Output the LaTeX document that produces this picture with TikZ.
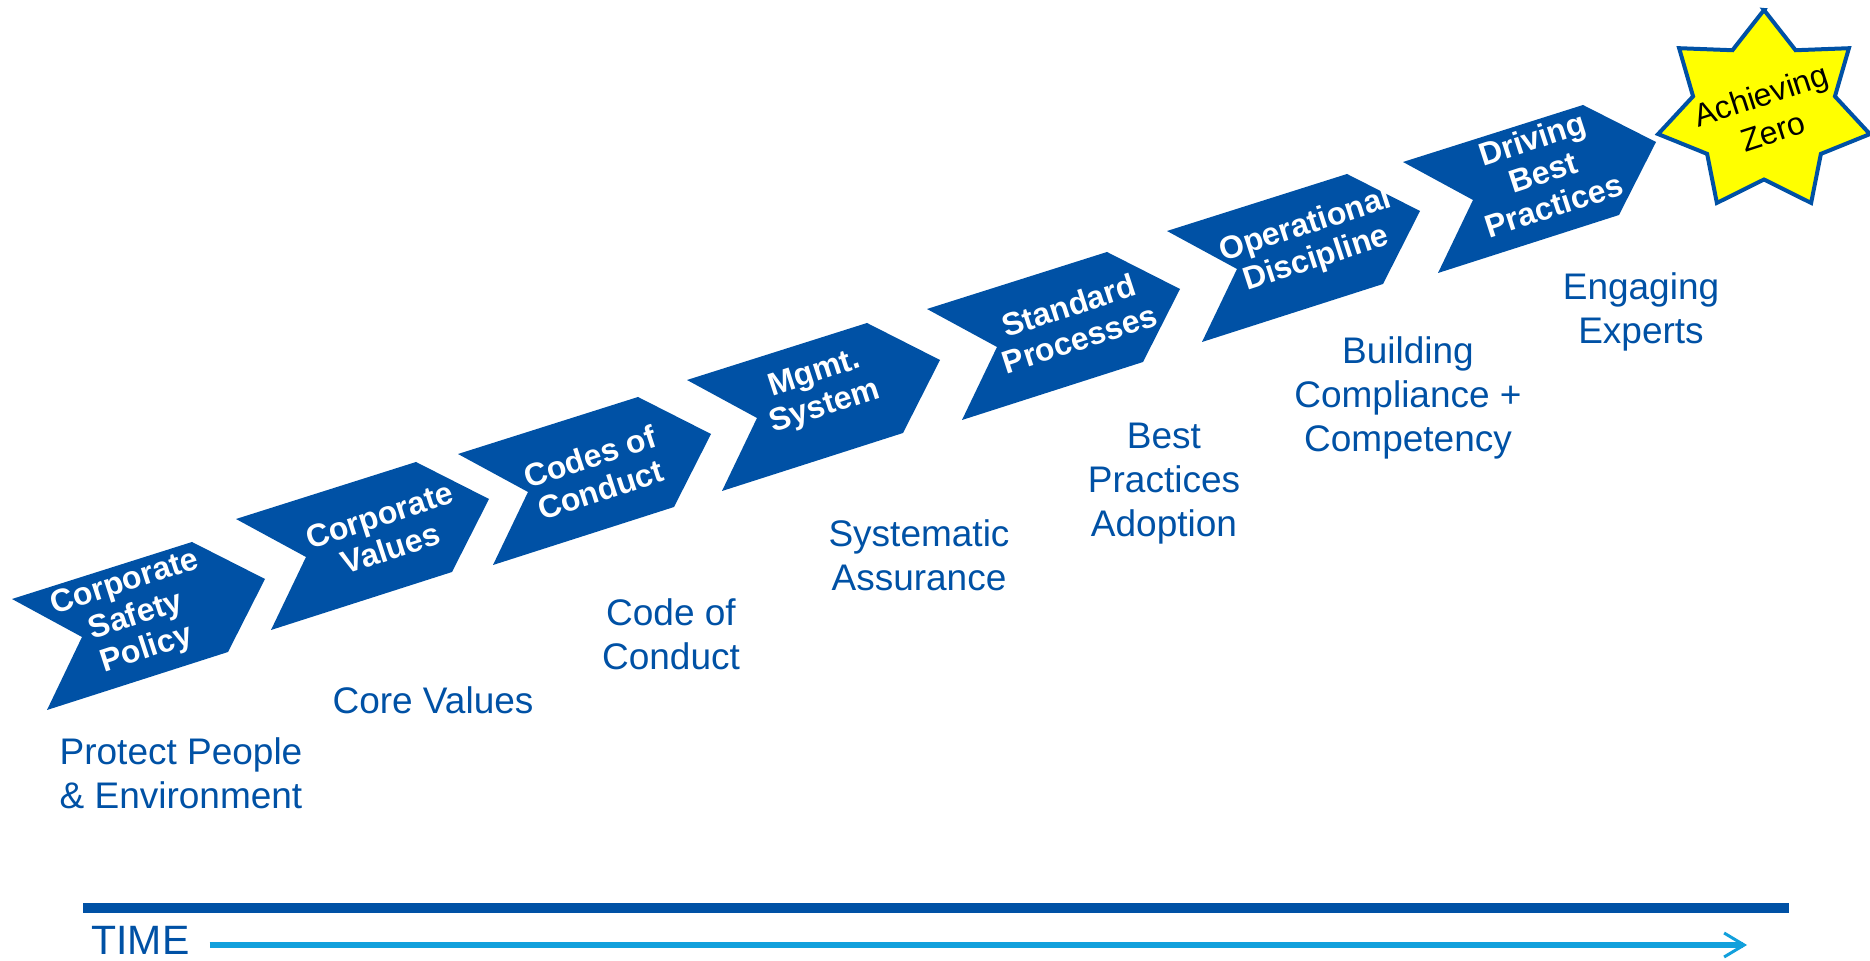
\documentclass[tikz,border=0pt]{standalone}
\usepackage{fontspec}
\setmainfont{Liberation Sans}
\usetikzlibrary{arrows.meta}
\definecolor{stepblue}{RGB}{0,81,165}
\definecolor{timeblue}{RGB}{18,160,220}
\definecolor{staryellow}{RGB}{255,255,0}
\tikzset{
  steplabel/.style={text=white, font=\bfseries\fontsize{16}{17.5}\selectfont, align=center, rotate=18, inner sep=0pt},
  outcome/.style={text=stepblue, font=\fontsize{18.5}{22}\selectfont, align=center, inner sep=0pt},
  timearrow/.style={timeblue, line width=3pt, -{Straight Barb[length=10pt,width=12pt,line width=1.5pt]}},
}
\begin{document}
\begin{tikzpicture}[x=0.5pt, y=-0.5pt]
\useasboundingbox (0,0) rectangle (1870,961);
% chevrons, placed by their left notch tip
\foreach \x/\y in {12/599, 236/519, 458/454, 687/380, 927/309, 1167/231, 1403/162}
  \fill[stepblue] (\x,\y) -- ++(180,-57) -- ++(73,37) -- ++(-37,73) -- ++(-181,58) -- ++(35,-73) -- cycle;
\node[steplabel] (policy) at (136,617) {Corporate\\Safety\\Policy};
\node[steplabel] (values) at (385,532) {Corporate\\Values};
\node[steplabel] (codes) at (595,473) {Codes of\\Conduct};
\node[steplabel] (mgmt) at (820,391) {Mgmt.\\System};
\node[steplabel] (processes) at (1074,322) {Standard\\Processes};
\node[steplabel] (discipline) at (1311,243) {Operational\\Discipline};
\node[steplabel] (driving) at (1543,172) {Driving\\Best\\Practices};
% the star
\filldraw[fill=staryellow, draw=stepblue, line width=2pt, shift={(1764,111.5)}, xscale=1.07]
  (270:101.5) \foreach \i in {1,...,7} { -- ({270+\i*51.43-25.71}:68) -- ({270+\i*51.43}:101.5) } -- cycle;
\node[rotate=18, align=center, font=\fontsize{16}{19}\selectfont, inner sep=0pt] (zero) at (1767,113) {Achieving\\Zero};
% outcomes
\node[outcome] (protect) at (181,773) {Protect People\\\& Environment};
\node[outcome] (core) at (433,700) {Core Values};
\node[outcome] (conduct) at (671,634) {Code of\\Conduct};
\node[outcome] (assurance) at (919,555) {Systematic\\Assurance};
\node[outcome] (adoption) at (1164,484) {Best\\Practices\\Adoption};
\node[outcome] (competency) at (1408,398) {Building\\Compliance +\\Competency};
\node[outcome] (experts) at (1641,312) {Engaging\\Experts};
% time line
\draw[stepblue, line width=5pt] (83,908) -- (1789,908);
\node[text=stepblue, font=\fontsize{20.5}{24}\selectfont, anchor=base west, inner sep=0pt] (time) at (91,955) {TIME};
\coordinate (tend) at (1747,945);
\draw[timearrow, shorten <=10pt] (time.east |- tend) -- (tend);
\end{tikzpicture}
\end{document}
